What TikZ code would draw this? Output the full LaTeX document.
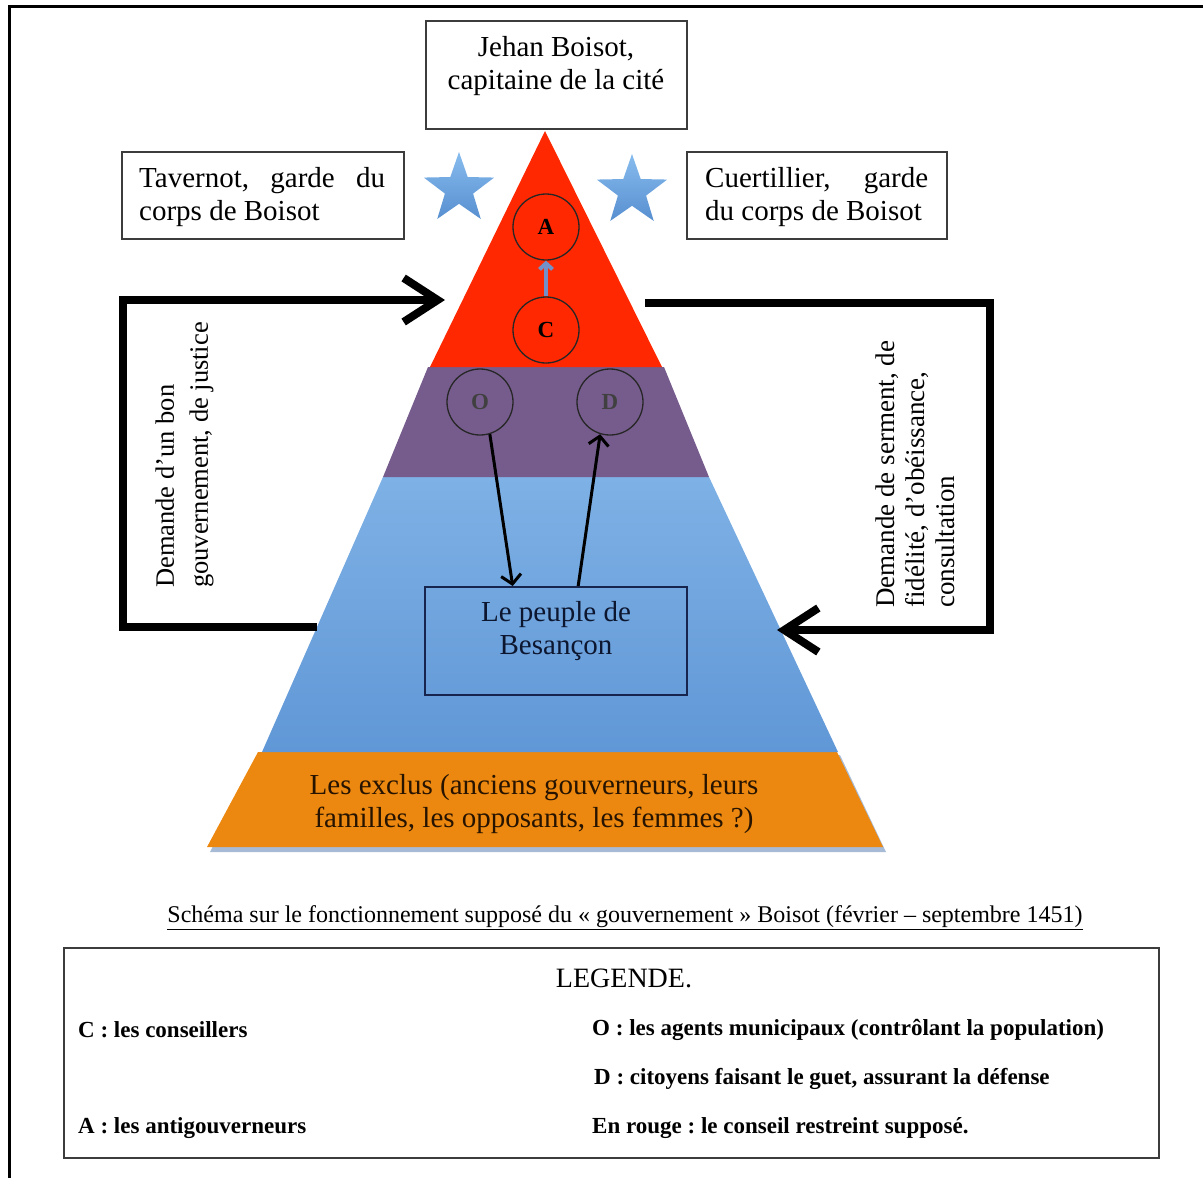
\documentclass[tikz,border=0pt]{standalone}
\usepackage{fontspec}
\setmainfont{Liberation Serif}
\usetikzlibrary{arrows.meta,shapes.geometric,calc}
\frenchspacing

\definecolor{redband}{RGB}{255,40,0}
\definecolor{purpleband}{RGB}{118,92,140}
\definecolor{bluetop}{RGB}{126,177,229}
\definecolor{bluebot}{RGB}{96,151,214}
\definecolor{orangeband}{RGB}{236,136,16}
\definecolor{navy}{RGB}{22,36,78}
\definecolor{startop}{RGB}{135,188,238}
\definecolor{starbot}{RGB}{88,143,208}
\definecolor{arrowblue}{RGB}{115,145,200}
\definecolor{boxgray}{RGB}{60,60,60}
\definecolor{shadowblue}{RGB}{95,130,180}

\begin{document}
\begin{tikzpicture}[x=1pt,y=-1pt,
  txt/.style={font=\fontsize{29}{33}\selectfont, inner sep=0pt, align=center},
  sidetxt/.style={font=\fontsize{27}{32}\selectfont, inner sep=0pt, align=left, rotate=90, anchor=west},
  framebox/.style={draw=boxgray, line width=1.3pt, fill=white, inner sep=0pt},
  ring/.style={circle, draw=black!85, line width=1.3pt, minimum size=66pt, inner sep=0pt,
               font=\fontsize{23}{23}\selectfont\bfseries},
  bigarrow/.style={line width=8pt, line join=miter, -{Straight Barb[length=34pt,width=44pt]}},
  thinarrow/.style={line width=3pt, -{Straight Barb[length=9pt,width=20pt]}},
  starshape/.style={star, star points=5, star point ratio=2.5, minimum size=74pt, inner sep=0pt,
                    top color=startop, bottom color=starbot, draw=none},
  legtxt/.style={font=\fontsize{23}{26}\selectfont\bfseries, inner sep=0pt, anchor=west},
]
\useasboundingbox (0,0) rectangle (1203,1178);

% page frame (top and left edges)
\draw[line width=3pt] (9,1178) -- (9,6) -- (1203,6);

% ---------- pyramid ----------
\fill[shadowblue, opacity=0.55] (260,755) -- (840,755) -- (886,852) -- (210,852) -- cycle;
\fill[orangeband] (258,752) -- (837,752) -- (883,847) -- (207,847) -- cycle;
\shade[top color=bluetop, bottom color=bluebot] (383,477) -- (709,477) -- (838,752) -- (262,752) -- cycle;
\fill[purpleband] (428,367) -- (664,367) -- (709,477) -- (383,477) -- cycle;
\fill[redband] (545,131) -- (662,367) -- (430,367) -- cycle;

% ---------- boxes ----------
\node[framebox, minimum width=261pt, minimum height=108pt] (jehan) at (556.5,75) {};
\node[txt] (jehantxt) at (556,66) {Jehan Boisot,\\capitaine de la cité};

\node[framebox, minimum width=282pt, minimum height=87pt] (tav) at (263,195.5) {};
\node[txt, align=left, anchor=west] (tavtxt) at (139,197) {\makebox[246pt][s]{Tavernot, garde du}\\corps de Boisot};

\node[framebox, minimum width=260pt, minimum height=87pt] (cuer) at (817,195.5) {};
\node[txt, align=left, anchor=west] (cuertxt) at (705,197) {\makebox[223pt][s]{Cuertillier, garde}\\du corps de Boisot};

% stars
\node[starshape] (star1) at (459,189) {};
\node[starshape] (star2) at (632,191) {};

% circles
\node[ring] (A) at (546,227) {A};
\node[ring] (C) at (546,330) {C};
\node[ring, text=black!75] (O) at (480,402) {O};
\node[ring, text=black!75] (D) at (610,402) {D};

\draw[line width=4pt, arrowblue, -{Straight Barb[length=6pt,width=13pt]}] (C.north) -- (A.south);

% people box
\node[draw=navy, line width=2pt, minimum width=262pt, minimum height=108pt, inner sep=0pt] (peuple) at (556,641) {};
\node[txt, text=navy!60!black] (peupletxt) at (556,631) {Le peuple de\\Besançon};

\draw[thinarrow] (O.-73) -- ($(peuple.north west)!0.336!(peuple.north east)$);
\draw[thinarrow] ($(peuple.north west)!0.584!(peuple.north east)$) -- (D.-107);

% orange text
\node[txt, text=black!85!orange] (exclus) at (534,804) {Les exclus (anciens gouverneurs, leurs\\familles, les opposants, les femmes ?)};

% ---------- side brackets ----------
\coordinate (l1) at (317,627);
\coordinate (l2) at (123,627);
\coordinate (l3) at (123,300);
\coordinate (l4) at (445,300);
\draw[bigarrow] (l1) -- (l2) -- (l3) -- (l4);

\coordinate (r1) at (645,303);
\coordinate (r2) at (990,303);
\coordinate (r3) at (990,630);
\coordinate (r4) at (777,630);
\draw[bigarrow] (r1) -- (r2) -- (r3) -- (r4);

\node[sidetxt, font=\fontsize{26.5}{34}\selectfont] (lefttxt) at (184.5,588) {Demande d’un bon\\gouvernement, de justice};
\node[sidetxt, font=\fontsize{27}{30}\selectfont] (righttxt) at (915,608) {Demande de serment, de\\fidélité, d’obéissance,\\consultation};

% ---------- caption and legend ----------
\node[inner sep=0pt, font=\fontsize{24}{28}\selectfont] (caption) at (625,918)
  {\underline{Schéma sur le fonctionnement supposé du « gouvernement » Boisot (février – septembre 1451)}};

\node[draw=boxgray, line width=1.5pt, minimum width=1095pt, minimum height=210pt, inner sep=0pt] (legend) at (611.5,1053) {};
\node[inner sep=0pt, font=\fontsize{28}{30}\selectfont] (legtitle) at (624,978) {LEGENDE.};
\node[legtxt] (legC) at (78,1030) {C : les conseillers};
\node[legtxt] (legO) at (592,1030) {O : les agents municipaux (contrôlant la population)};
\node[legtxt] (legD) at (594,1079) {D : citoyens faisant le guet, assurant la défense};
\node[legtxt] (legA) at (78,1128) {A : les antigouverneurs};
\node[legtxt] (legR) at (592,1128) {En rouge : le conseil restreint supposé.};
\end{tikzpicture}
\end{document}
